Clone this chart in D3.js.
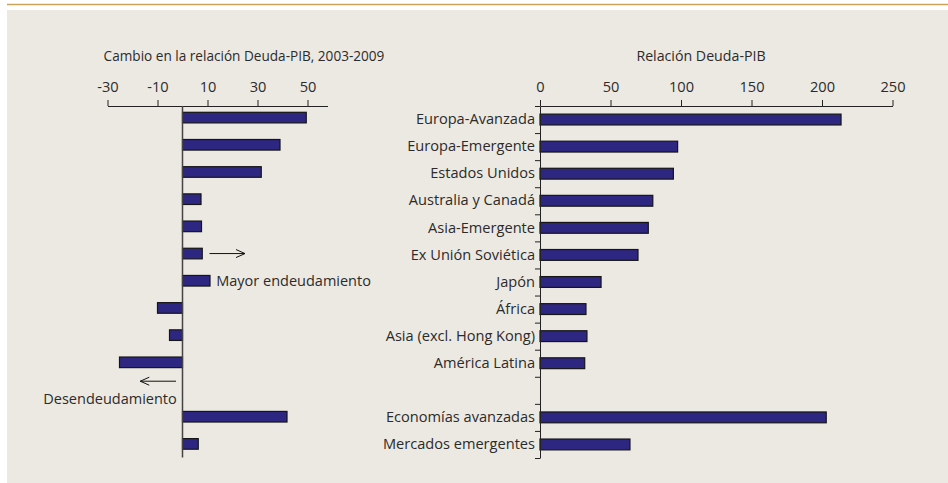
<!DOCTYPE html>
<meta charset="utf-8">

<style>

body {
  margin: 0;
  background: #fff;
}

svg.chart text {
  font-family: "Open Sans", sans-serif;
  fill: #2b2b2b;
}

svg.chart .axis text {
  font-size: 14.6px;
}

svg.chart .axis path,
svg.chart .axis line {
  stroke: #222;
}

svg.chart .bar {
  fill: #2e2781;
  stroke: #151515;
  stroke-width: 1.2;
}

svg.chart .title {
  font-size: 13.6px;
  text-anchor: middle;
}

svg.chart .note {
  font-size: 14.5px;
}

</style>


<svg class="chart" width="948" height="483"></svg>


<script src="https://d3js.org/d3.v7.min.js"></script>

<script>

// rows, top to bottom ("" is the empty spacer row)
var categories = [
  "Europa-Avanzada", "Europa-Emergente", "Estados Unidos", "Australia y Canadá",
  "Asia-Emergente", "Ex Unión Soviética", "Japón", "África",
  "Asia (excl. Hong Kong)", "América Latina", "",
  "Economías avanzadas", "Mercados emergentes"
];

// change in debt-to-GDP ratio, 2003-2009
var changeValues = [49.5, 39, 31.5, 7.4, 7.6, 7.9, 11, -10, -5.2, -25.2, null, 41.8, 6.3];

// debt-to-GDP ratio
var ratioValues = [213.5, 97.6, 94.6, 80, 76.8, 69.5, 43.3, 32.6, 33.3, 31.7, null, 203, 63.8];

var changeTicks = [-30, -10, 10, 30, 50];
var ratioTicks = [0, 50, 100, 150, 200, 250];

var leftTitle = "Cambio en la relación Deuda-PIB, 2003-2009";
var rightTitle = "Relación Deuda-PIB";
var upLabel = "Mayor endeudamiento";
var downLabel = "Desendeudamiento";


var svg = d3.select("svg.chart");

// frame
svg.append("rect")
  .attr("x", 7).attr("y", 10)
  .attr("width", 941).attr("height", 473)
  .attr("fill", "#ece9e2");

svg.append("line")
  .attr("x1", 7).attr("x2", 948)
  .attr("y1", 4.5).attr("y2", 4.5)
  .attr("stroke", "#c9a45a")
  .attr("stroke-width", 1.5);

var rows = d3.range(categories.length);
var plain = function(d) { return String(d); };  // hyphen minus, as in the source

// ---- left panel: change ----
var xL = d3.scaleLinear()
  .domain([-30, 58])
  .range([107.5, 327.5]);

var yL = d3.scaleBand()
  .domain(rows)
  .range([104, 457.5])
  .paddingInner(0.61)
  .paddingOuter(0.305);

var left = svg.append("g");

left.append("g")
  .attr("class", "axis")
  .attr("transform", "translate(0,106)")
  .call(d3.axisTop(xL)
    .tickValues(changeTicks)
    .tickFormat(plain)
    .tickSize(6)
    .tickSizeOuter(0)
    .tickPadding(8));

left.append("text")
  .attr("class", "title")
  .attr("x", 244)
  .attr("y", 61)
  .text(leftTitle);

left.selectAll(".bar")
  .data(rows.filter(function(i) { return changeValues[i] != null; }))
  .enter().append("rect")
    .attr("class", "bar")
    .attr("x", function(i) { return xL(Math.min(0, changeValues[i])); })
    .attr("y", function(i) { return yL(i); })
    .attr("width", function(i) { return Math.abs(xL(changeValues[i]) - xL(0)); })
    .attr("height", yL.bandwidth());

left.append("line")
  .attr("x1", xL(0)).attr("x2", xL(0))
  .attr("y1", 106).attr("y2", 457.5)
  .attr("stroke", "#444")
  .attr("stroke-width", 1.5);

// annotations
var arrowRow = 5, upRow = 6, downRow = 10;

svg.append("defs").append("marker")
  .attr("id", "head")
  .attr("viewBox", "0 0 10 10")
  .attr("refX", 10).attr("refY", 5)
  .attr("markerWidth", 10).attr("markerHeight", 10)
  .attr("markerUnits", "userSpaceOnUse")
  .attr("orient", "auto")
  .append("path")
    .attr("d", "M1,1 L10,5 L1,9")
    .attr("fill", "none")
    .attr("stroke", "#111")
    .attr("stroke-width", 1);

left.append("line")
  .attr("x1", xL(10.8)).attr("x2", xL(25))
  .attr("y1", yL(arrowRow) + yL.bandwidth() / 2)
  .attr("y2", yL(arrowRow) + yL.bandwidth() / 2)
  .attr("stroke", "#111")
  .attr("marker-end", "url(#head)");

left.append("text")
  .attr("class", "note")
  .attr("x", xL(13.5))
  .attr("y", yL(upRow) + yL.bandwidth() / 2)
  .attr("dy", "0.35em")
  .text(upLabel);

left.append("line")
  .attr("x1", xL(-2.6)).attr("x2", xL(-16.9))
  .attr("y1", yL(downRow) - 3).attr("y2", yL(downRow) - 3)
  .attr("stroke", "#111")
  .attr("marker-end", "url(#head)");

left.append("text")
  .attr("class", "note")
  .attr("x", xL(-2.3))
  .attr("y", yL(downRow) + 14.5)
  .attr("dy", "0.35em")
  .attr("text-anchor", "end")
  .text(downLabel);

// ---- right panel: ratio ----
var xR = d3.scaleLinear()
  .domain([0, 250])
  .range([540, 892.5]);

var yR = d3.scaleBand()
  .domain(rows)
  .range([106, 458])
  .paddingInner(0.6)
  .paddingOuter(0.3);

// row boundaries carry the tick marks
var rowEdge = d3.scaleLinear()
  .domain([0, categories.length])
  .range([106, 458]);

var right = svg.append("g");

right.append("g")
  .attr("class", "axis")
  .attr("transform", "translate(0,106)")
  .call(d3.axisTop(xR)
    .tickValues(ratioTicks)
    .tickFormat(plain)
    .tickSize(6)
    .tickSizeOuter(0)
    .tickPadding(8));

right.append("text")
  .attr("class", "title")
  .attr("x", 701)
  .attr("y", 61)
  .style("font-size", "14.2px")
  .text(rightTitle);

right.selectAll(".bar")
  .data(rows.filter(function(i) { return ratioValues[i] != null; }))
  .enter().append("rect")
    .attr("class", "bar")
    .attr("x", xR(0))
    .attr("y", function(i) { return yR(i); })
    .attr("width", function(i) { return xR(ratioValues[i]) - xR(0); })
    .attr("height", yR.bandwidth());

right.append("g")
  .attr("class", "axis")
  .attr("transform", `translate(${xR(0)},0)`)
  .call(d3.axisLeft(rowEdge)
    .tickValues(d3.range(categories.length + 1))
    .tickFormat("")
    .tickSize(5)
    .tickSizeOuter(0));

right.append("g")
  .attr("class", "axis labels")
  .attr("transform", `translate(${xR(0)},0)`)
  .call(d3.axisLeft(yR)
    .tickFormat(function(i) { return categories[i]; })
    .tickSize(0)
    .tickPadding(5))
  .call(function(g) { g.select(".domain").remove(); });

</script>
